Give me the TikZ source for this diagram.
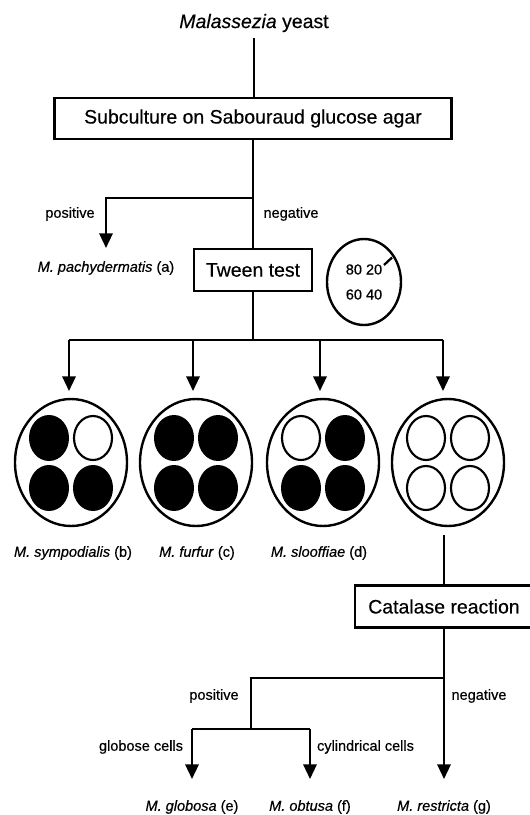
\documentclass[tikz,border=0pt]{standalone}
\usepackage{fontspec}
\setmainfont{Liberation Sans}[FakeBold=0.4]
\usetikzlibrary{arrows.meta,shapes.geometric,calc}
\begin{document}
\begin{tikzpicture}[x=0.75pt,y=-0.75pt,
  line width=1.7pt,
  bigtxt/.style={font=\fontsize{14.6}{17}\selectfont},
  smalltxt/.style={font=\fontsize{10.9}{13}\selectfont, inner sep=0pt},
  box/.style={draw, rectangle, bigtxt, inner sep=0pt, line width=1.9pt},
  arr/.style={-{Triangle[width=10pt,length=11pt]}},
  plate/.style={draw, ellipse, minimum width=84pt, minimum height=95.25pt, inner sep=0pt, line width=1.8pt},
  dotf/.style={ellipse, fill=black, minimum width=30pt, minimum height=34.5pt, inner sep=0pt},
  ring/.style={draw, ellipse, minimum width=28.5pt, minimum height=33pt, inner sep=0pt, line width=1.6pt},
]
\fill[white] (0,0) rectangle (530,815);
\useasboundingbox (0,0) rectangle (530,815);

% main boxes
\node[bigtxt] (yeast) at (254,23) {\textit{Malassezia} yeast};
\node[box, minimum width=297.75pt, minimum height=30.75pt] (sub) at (253,118.5) {Subculture on Sabouraud glucose agar};
\node[box, minimum width=88.5pt, minimum height=31.5pt] (tween) at (253,270) {Tween test};
\node[draw, ellipse, minimum width=55.5pt, minimum height=64.5pt, inner sep=0pt, line width=1.8pt,
      font=\fontsize{10.9}{18.75}\selectfont, align=center] (tw) at (364,282) {80 20\\60 40};
\node[box, minimum width=133.5pt, minimum height=31.5pt] (cat) at (444,606.5) {Catalase reaction};

% top part
\draw (yeast.south) -- (yeast.south |- sub.north);
\coordinate (b1) at (253,198);
\coordinate (pa) at (106,248);
\draw (sub.south) -- (tween.north);
\draw[arr] (b1) -| (pa);
\node[smalltxt] (pos1) at (70,214) {positive};
\node[smalltxt] (neg1) at (291,214) {negative};
\node[smalltxt] (pachy) at (106,268) {\textit{M. pachydermatis} (a)};
\draw ($(tw.center)+(20,-17)$) -- ++(8,-7.5);

% Tween branches
\coordinate (b2) at (253,340);
\coordinate (a1) at (69,391);
\coordinate (a2) at (193,391);
\coordinate (a3) at (320,391);
\coordinate (a4) at (443,391);
\draw (tween.south) -- (b2);
\draw (a1 |- b2) -- (a4 |- b2);
\foreach \i in {1,...,4} \draw[arr] (a\i |- b2) -- (a\i);

% plates
\node[plate] (c1) at (71,462.5) {};
\node[plate] (c2) at (196,462.5) {};
\node[plate] (c3) at (323,462.5) {};
\node[plate] (c4) at (448,462.5) {};
\foreach \p/\tl/\tr/\bl/\br in {c1/dotf/ring/dotf/dotf, c2/dotf/dotf/dotf/dotf, c3/ring/dotf/dotf/dotf, c4/ring/ring/ring/ring} {
  \node[\tl] (\p tl) at ($(\p)+(-22,-24.5)$) {};
  \node[\tr] (\p tr) at ($(\p)+(22,-24.5)$) {};
  \node[\bl] (\p bl) at ($(\p)+(-22,25.5)$) {};
  \node[\br] (\p br) at ($(\p)+(22,25.5)$) {};
}
\node[smalltxt] (lb) at (73,553) {\textit{M. sympodialis} (b)};
\node[smalltxt] (lc) at (197,553) {\textit{M. furfur} (c)};
\node[smalltxt] (ld) at (319,553) {\textit{M. slooffiae} (d)};

% catalase
\draw ([yshift=-6pt]c4.south -| cat.north) -- (cat.north);
\coordinate (b3) at (444,678);
\coordinate (b4) at (251,729);
\coordinate (g1) at (192,779);
\coordinate (g2) at (310,779);
\coordinate (g3) at (444,779);
\draw[arr] (cat.south) -- (g3);
\draw (b3) -| (b4);
\draw (g1 |- b4) -- (g2 |- b4);
\draw[arr] (g1 |- b4) -- (g1);
\draw[arr] (g2 |- b4) -- (g2);
\node[smalltxt] (pos2) at (214,696) {positive};
\node[smalltxt] (neg2) at (479,696) {negative};
\node[smalltxt] (glob) at (141,747) {globose cells};
\node[smalltxt] (cyl) at (365.5,747) {cylindrical cells};
\node[smalltxt] (le) at (192,807) {\textit{M. globosa} (e)};
\node[smalltxt] (lf) at (310,807) {\textit{M. obtusa} (f)};
\node[smalltxt] (lg) at (444,807) {\textit{M. restricta} (g)};
\end{tikzpicture}
\end{document}
